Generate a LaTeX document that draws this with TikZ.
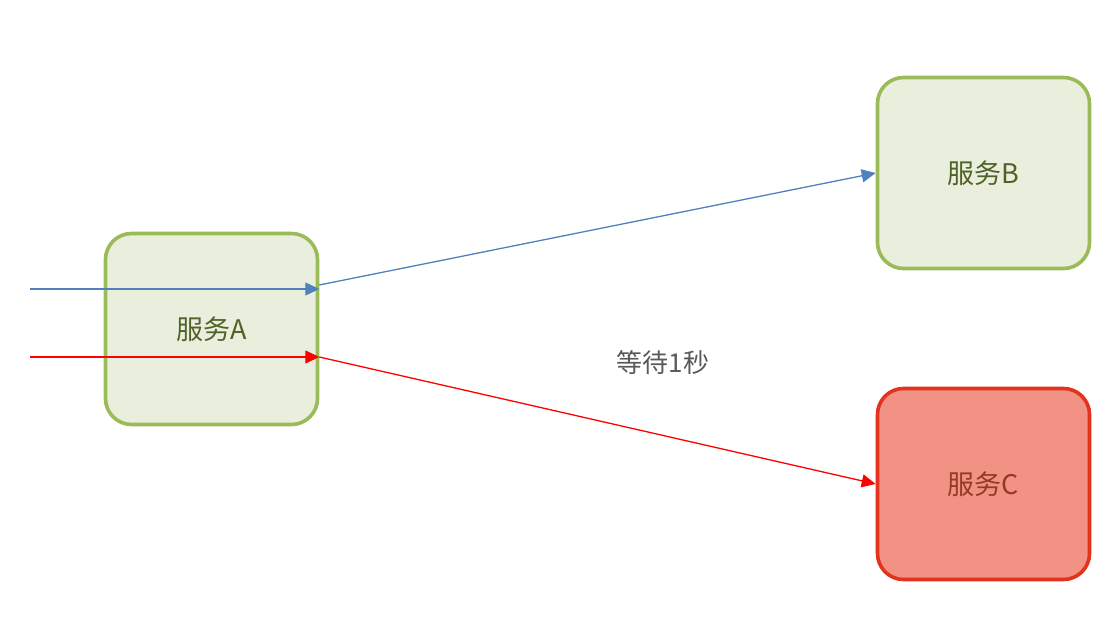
\documentclass[tikz,border=0pt]{standalone}
\usepackage{fontspec}
\setmainfont{Noto Sans CJK SC}
\usetikzlibrary{arrows.meta,calc}
\definecolor{gfill}{HTML}{EAEFDD}
\definecolor{gline}{HTML}{9BBB59}
\definecolor{gtext}{HTML}{4F6228}
\definecolor{rfill}{HTML}{F29285}
\definecolor{rline}{HTML}{E3331E}
\definecolor{rtext}{HTML}{943A25}
\definecolor{bline}{HTML}{4F81BD}
\definecolor{lblgray}{HTML}{595959}
\tikzset{
  svc/.style={draw=gline, fill=gfill, line width=3.6pt, rounded corners=26pt,
    minimum width=212pt, minimum height=191pt, inner sep=0pt, text=gtext,
    font=\fontsize{27}{31}\selectfont},
  svcbad/.style={svc, draw=rline, fill=rfill, text=rtext},
  flowblue/.style={draw=bline, line width=1.3pt, -{Triangle[length=14pt,width=13pt]}},
  flowred/.style={draw=red, line width=1.3pt, -{Triangle[length=14pt,width=13pt]}},
  lbl/.style={text=lblgray, font=\fontsize{26}{30}\selectfont}
}
\begin{document}
\begin{tikzpicture}[x=1pt,y=1pt]
\useasboundingbox (0,0) rectangle (1118,638);
\node[svc] (A) at (211.5,309) {服务A};
\node[svc] (B) at (983.5,465) {服务B};
\node[svcbad] (C) at (983.5,154) {服务C};
\coordinate (inB) at (30,349);
\coordinate (inR) at (30,281);
\coordinate (aB) at (A.east |- inB);
\coordinate (aR) at (A.east |- inR);
\coordinate (oB) at ($(A.east)+(0,44)$);
\draw[flowblue] (inB) -- (aB);
\draw[flowred] (inR) -- (aR);
\draw[flowblue] (oB) -- (B.west);
\draw[flowred] (aR) -- (C.west);
\node[lbl] (W) at (663,275) {等待1秒};
\end{tikzpicture}
\end{document}
